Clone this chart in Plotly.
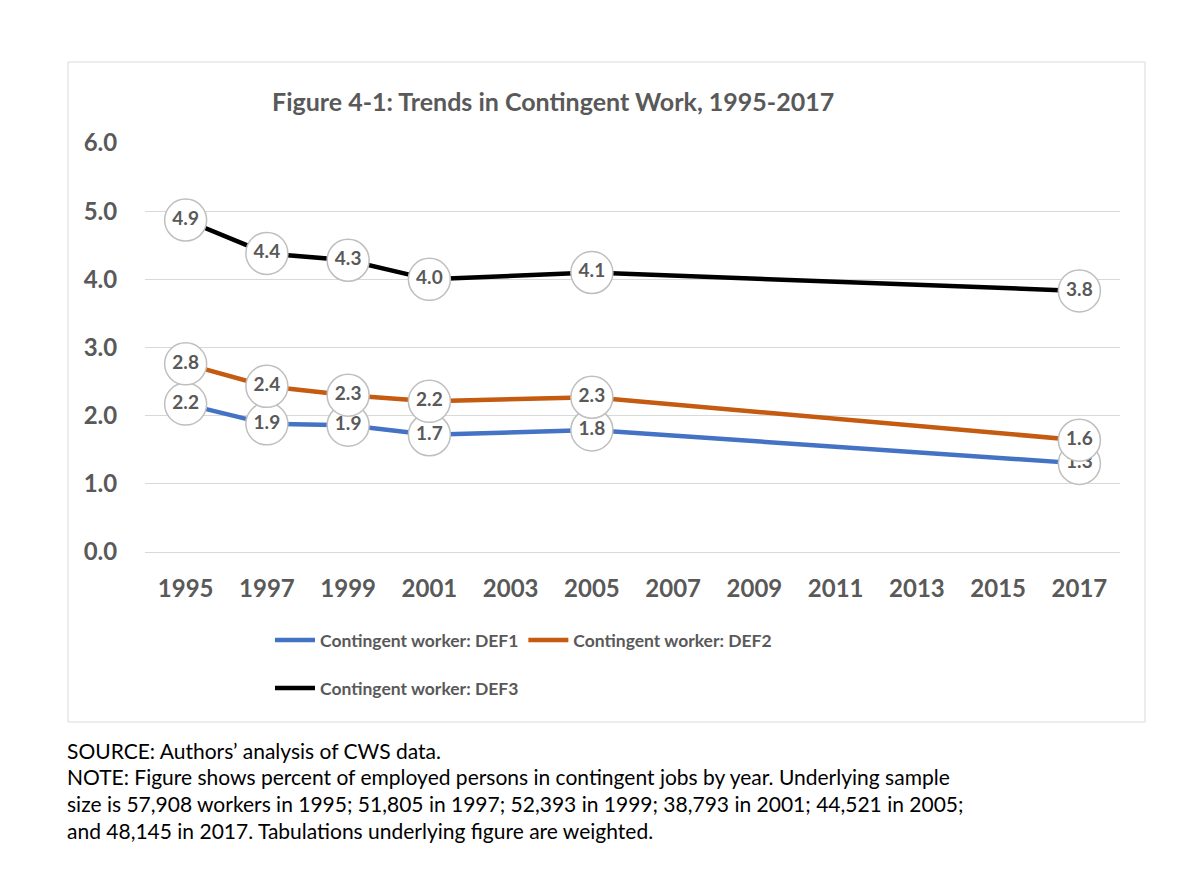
import plotly.graph_objects as go

years = [1995, 1997, 1999, 2001, 2005, 2017]
def1 = [2.17, 1.88, 1.86, 1.72, 1.79, 1.30]
def2 = [2.76, 2.43, 2.30, 2.21, 2.27, 1.64]
def3 = [4.87, 4.38, 4.28, 4.00, 4.10, 3.83]
tick_years = list(range(1995, 2018, 2))
y_ticks = [0, 1, 2, 3, 4, 5, 6]

series = [
    ("Contingent worker: DEF1", def1, "#4472C4", "legend"),
    ("Contingent worker: DEF2", def2, "#C55A11", "legend"),
    ("Contingent worker: DEF3", def3, "#000000", "legend2"),
]

OFF = 8  # page body margin
W, H = 1179 - 2 * OFF, 873 - 2 * OFF
# plot area bounds in screen pixels
L, R, T, B = 145, 1120, 143, 552
pw, ph = R - L, B - T

def px(x):
    return (x - L) / pw

def py(y):
    return (B - y) / ph

GRAY = "#595959"
FONT = "Lato"

fig = go.Figure()
for name, vals, color, lg in series:
    fig.add_trace(go.Scatter(
        x=years, y=vals, name=name, mode="lines",
        line=dict(color=color, width=4.5),
        legend=lg,
    ))
for name, vals, color, lg in series:
    fig.add_trace(go.Scatter(
        x=years, y=vals, mode="markers+text", showlegend=False,
        marker=dict(size=42, color="white", line=dict(color="#BFBFBF", width=1.5)),
        text=[f"{v:.1f}" for v in vals], textposition="middle center",
        textfont=dict(family=FONT, size=19, color=GRAY, weight="bold"),
        hoverinfo="skip",
    ))

fig.update_layout(
    width=W, height=H,
    margin=dict(l=L - OFF, r=W - (R - OFF), t=T - OFF, b=H - (B - OFF), autoexpand=False),
    paper_bgcolor="white", plot_bgcolor="white",
    font=dict(family=FONT, color=GRAY),
    xaxis=dict(
        range=[1994, 2018], tickvals=tick_years, ticktext=[str(t) for t in tick_years],
        showgrid=False, zeroline=False, showline=False,
        ticks="outside", ticklen=15, tickcolor="rgba(0,0,0,0)",
        tickfont=dict(family=FONT, size=24, color=GRAY, weight="bold"),
    ),
    yaxis=dict(
        range=[0, 6], tickvals=y_ticks, tickformat=".1f",
        showgrid=True, gridcolor="#D9D9D9", gridwidth=1,
        zeroline=True, zerolinecolor="#D9D9D9", zerolinewidth=1, showline=False,
        ticks="outside", ticklen=22, tickcolor="rgba(0,0,0,0)",
        tickfont=dict(family=FONT, size=24, color=GRAY, weight="bold"),
    ),
    legend=dict(
        orientation="h", x=px(270), xanchor="left", y=py(640), yanchor="middle",
        font=dict(family=FONT, size=17.5, color=GRAY, weight="bold"),
        itemwidth=40, tracegroupgap=0, bgcolor="rgba(0,0,0,0)",
    ),
    legend2=dict(
        orientation="h", x=px(270), xanchor="left", y=py(688), yanchor="middle",
        font=dict(family=FONT, size=17.5, color=GRAY, weight="bold"),
        itemwidth=40, bgcolor="rgba(0,0,0,0)",
    ),
    showlegend=True,
)

# chart border
fig.add_shape(type="rect", xref="paper", yref="paper",
              x0=px(68), x1=px(1145), y0=py(722), y1=py(62),
              line=dict(color="#D9D9D9", width=1), fillcolor="rgba(0,0,0,0)", layer="below")

fig.add_annotation(
    text="Figure 4-1: Trends in Contingent Work, 1995-2017",
    xref="paper", yref="paper", x=px(553), y=py(101), xanchor="center", yanchor="middle",
    showarrow=False, font=dict(family=FONT, size=25, color=GRAY, weight="bold"),
)

notes = [
    "SOURCE: Authors’ analysis of CWS data.",
    "NOTE: Figure shows percent of employed persons in contingent jobs by year. Underlying sample",
    "size is 57,908 workers in 1995; 51,805 in 1997; 52,393 in 1999; 38,793 in 2001; 44,521 in 2005;",
    "and 48,145 in 2017. Tabulations underlying figure are weighted.",
]
for i, line in enumerate(notes):
    fig.add_annotation(
        text=line, xref="paper", yref="paper", x=px(65), y=py(750 + i * 26.7),
        xanchor="left", yanchor="middle", showarrow=False, align="left",
        font=dict(family=FONT, size=21, color="#000000"),
    )

fig.write_html("out.html")
